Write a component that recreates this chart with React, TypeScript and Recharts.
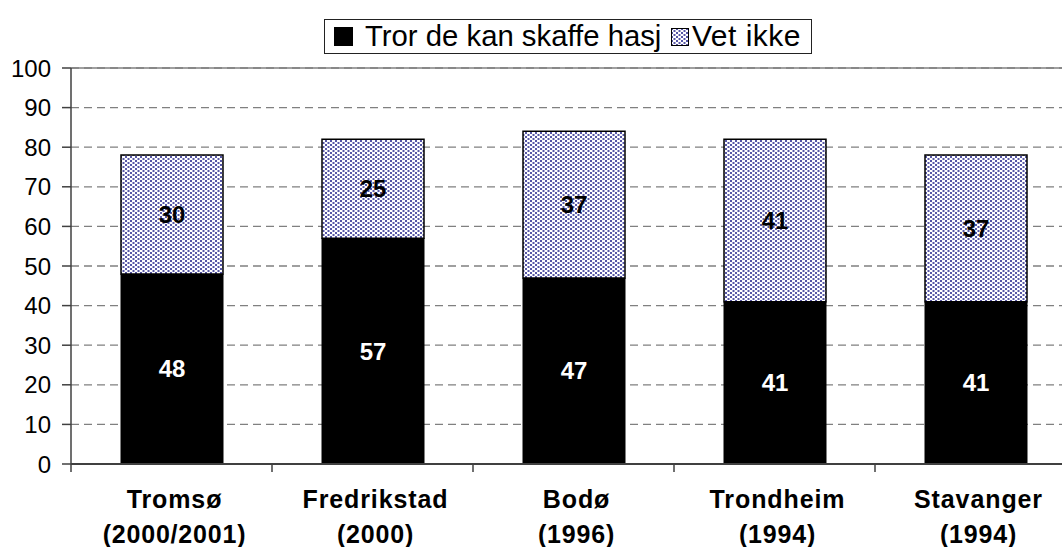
import React from 'react';
import { BarChart, Bar, XAxis, YAxis, CartesianGrid, LabelList, ReferenceLine } from 'recharts';

const cities = ['Tromsø', 'Fredrikstad', 'Bodø', 'Trondheim', 'Stavanger'];
const years = ['(2000/2001)', '(2000)', '(1996)', '(1994)', '(1994)'];
const kanSkaffe = [48, 57, 47, 41, 41];
const vetIkke = [30, 25, 37, 41, 37];
const yTicks = [0, 10, 20, 30, 40, 50, 60, 70, 80, 90, 100];
const seriesNames = ['Tror de kan skaffe hasj', 'Vet ikke'];

const data = cities.map((c, i) => ({ name: c, year: years[i], kan: kanSkaffe[i], vet: vetIkke[i] }));

const FONT = "Arial, 'Liberation Sans', sans-serif";
const CHART_W = 1080;
const CHART_H = 547;
const MARGIN = { top: 68, right: 4, bottom: 0, left: 0 };
const Y_W = 71;
const X_H = 83;
const HALF_BAND = (CHART_W - MARGIN.left - MARGIN.right - Y_W) / cities.length / 2;

const PatternDef = ({ id }: { id: string }) => (
  <pattern id={id} width="5" height="4" patternUnits="userSpaceOnUse">
    <rect x="0" y="0" width="5" height="4" fill="#ffffff" />
    <rect x="0" y="0" width="2" height="2" fill="#5656a6" />
    <rect x="2.5" y="2" width="2" height="2" fill="#5656a6" />
  </pattern>
);

const XTick = (props: any) => {
  const { x, y, payload, index } = props;
  const yr = data.find((d) => d.name === payload.value)?.year ?? years[index] ?? '';
  return (
    <g>
      <line x1={x - HALF_BAND} x2={x - HALF_BAND} y1={y} y2={y + 8} stroke="#404040" strokeWidth={1.5} />
      <text x={x + 3} y={y + 44} textAnchor="middle" fontFamily={FONT} fontSize={25} fontWeight="bold" letterSpacing={0.9} fill="#000">
        {payload.value}
      </text>
      <text x={x + 3} y={y + 79} textAnchor="middle" fontFamily={FONT} fontSize={25} fontWeight="bold" letterSpacing={0.8} fill="#000">
        {yr}
      </text>
    </g>
  );
};

const legendText: React.CSSProperties = {
  position: 'absolute',
  top: 16,
  fontFamily: FONT,
  fontSize: 30,
  lineHeight: 0,
  color: '#000',
  whiteSpace: 'nowrap',
};

export default function App() {
  return (
    <div style={{ position: 'absolute', left: 0, top: 0, width: 1062, height: 547, overflow: 'hidden', background: '#fff' }}>
      <BarChart width={CHART_W} height={CHART_H} data={data} margin={MARGIN} barSize={102}>
        <defs>
          <PatternDef id="dots" />
        </defs>
        <CartesianGrid vertical={false} stroke="#808080" strokeDasharray="8 5" strokeWidth={1.3} />
        <ReferenceLine y={100} stroke="#808080" strokeWidth={1.5} />
        <XAxis
          dataKey="name"
          height={X_H}
          tick={<XTick />}
          tickLine={false}
          tickSize={0}
          tickMargin={0}
          axisLine={{ stroke: '#404040', strokeWidth: 2 }}
          interval={0}
        />
        <YAxis
          width={Y_W}
          domain={[0, 100]}
          ticks={yTicks}
          interval={0}
          tickSize={9}
          tickMargin={11}
          tick={{ fill: '#000', fontSize: 24, fontFamily: FONT }}
          tickLine={{ stroke: '#404040', strokeWidth: 1.5 }}
          axisLine={{ stroke: '#404040', strokeWidth: 1.5 }}
        />
        <Bar dataKey="kan" name={seriesNames[0]} stackId="a" fill="#000" stroke="#000" strokeWidth={1} isAnimationActive={false}>
          <LabelList dataKey="kan" position="center" fill="#fff" fontSize={24} fontWeight="bold" fontFamily={FONT} />
        </Bar>
        <Bar dataKey="vet" name={seriesNames[1]} stackId="a" fill="url(#dots)" stroke="#000" strokeWidth={1.5} isAnimationActive={false}>
          <LabelList dataKey="vet" position="center" fill="#000" fontSize={24} fontWeight="bold" fontFamily={FONT} />
        </Bar>
      </BarChart>
      <div
        style={{
          position: 'absolute',
          left: 324,
          top: 19,
          width: 488,
          height: 35,
          boxSizing: 'border-box',
          border: '1px solid #222',
          background: '#fff',
        }}
      >
        <svg width={19} height={19} style={{ position: 'absolute', left: 9, top: 7 }}>
          <rect x={0.5} y={0.5} width={18} height={18} fill="#000" stroke="#000" />
        </svg>
        <span style={{ ...legendText, left: 40, fontSize: 29.3 }}>{seriesNames[0]}</span>
        <svg width={18} height={18} style={{ position: 'absolute', left: 346, top: 8 }}>
          <defs>
            <PatternDef id="dotsLegend" />
          </defs>
          <rect x={0.5} y={0.5} width={17} height={17} fill="url(#dotsLegend)" stroke="#000" strokeWidth={1} />
        </svg>
        <span style={{ ...legendText, left: 367, letterSpacing: 0.5 }}>{seriesNames[1]}</span>
      </div>
    </div>
  );
}
